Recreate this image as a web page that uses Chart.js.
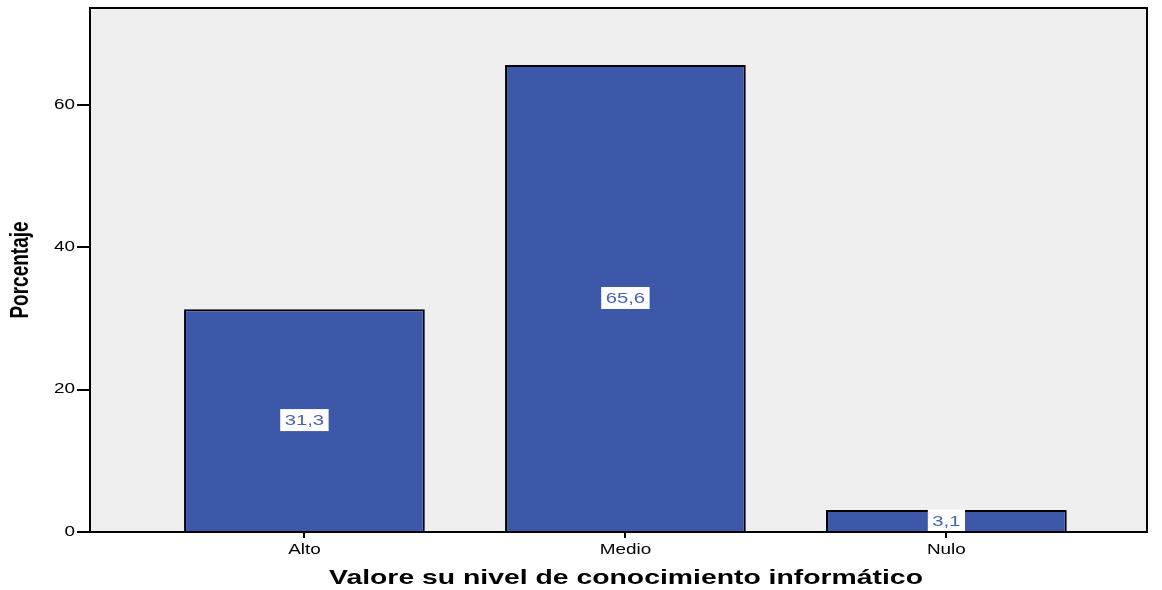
<!DOCTYPE html>
<html>
<head>
<meta charset="utf-8">
<script src="https://cdn.jsdelivr.net/npm/chart.js@4/dist/chart.umd.min.js"></script>
<style>
  html, body { margin: 0; padding: 0; background: #fff; }
  #wrap { width: 1162px; height: 590px; }
</style>
</head>
<body>
<div id="wrap"><canvas id="chart"></canvas></div>
<script>
const categories = ['Alto', 'Medio', 'Nulo'];
const porcentajes = [31.3, 65.6, 3.1];
const yTicks = [0, 20, 40, 60];
const xTitle = 'Valore su nivel de conocimiento informático';
const yTitle = 'Porcentaje';

const BAR_BLUE = '#3d58a9';
const LABEL_BLUE = '#4862b6';
const FONT = '"Liberation Sans", Arial, sans-serif';
const STRETCH = 1.35; // the original export is horizontally stretched

// text stretched horizontally, anchored at (x, y)
function wideText(ctx, txt, x, y, align) {
  ctx.save();
  ctx.translate(x, y);
  ctx.scale(STRETCH, 1);
  ctx.textAlign = align;
  ctx.textBaseline = 'middle';
  ctx.fillText(txt, 0, 0);
  ctx.restore();
}

const plotFrame = {
  id: 'plotFrame',
  beforeDraw(chart) {
    const { ctx, chartArea: a } = chart;
    ctx.save();
    ctx.fillStyle = '#efefef';
    ctx.fillRect(a.left, a.top, a.right - a.left, a.bottom - a.top);
    ctx.restore();
  },
  afterDraw(chart) {
    const { ctx, chartArea: a, scales } = chart;
    ctx.save();
    ctx.strokeStyle = '#000';
    ctx.lineWidth = 2;
    ctx.strokeRect(a.left, a.top, a.right - a.left, a.bottom - a.top);

    ctx.fillStyle = '#000';
    ctx.font = '14px ' + FONT;
    yTicks.forEach(v => wideText(ctx, String(v), a.left - 15, scales.y.getPixelForValue(v), 'right'));
    categories.forEach((c, i) => wideText(ctx, c, scales.x.getPixelForValue(i), 550, 'center'));

    ctx.font = 'bold 21px ' + FONT;
    wideText(ctx, xTitle, 626, 578, 'center');

    // rotated y title: stretch applies to glyph height
    ctx.translate(21, (a.top + a.bottom) / 2);
    ctx.scale(STRETCH, 1);
    ctx.rotate(-Math.PI / 2);
    ctx.font = 'bold 19px ' + FONT;
    ctx.textAlign = 'center';
    ctx.textBaseline = 'middle';
    ctx.fillText(yTitle, 0, 0);
    ctx.restore();
  }
};

// value boxes in the middle of each bar
const valueBoxes = {
  id: 'valueBoxes',
  afterDatasetsDraw(chart) {
    const { ctx } = chart;
    const meta = chart.getDatasetMeta(0);
    ctx.save();
    ctx.font = '15px ' + FONT;
    meta.data.forEach((bar, i) => {
      const txt = porcentajes[i].toFixed(1).replace('.', ',');
      const cy = (bar.y + bar.base) / 2;
      const w = ctx.measureText(txt).width * STRETCH + 9;
      const h = 22;
      ctx.fillStyle = '#fff';
      ctx.fillRect(bar.x - w / 2, cy - h / 2, w, h);
      ctx.fillStyle = LABEL_BLUE;
      wideText(ctx, txt, bar.x, cy + 1, 'center');
    });
    ctx.restore();
  }
};

new Chart(document.getElementById('chart'), {
  type: 'bar',
  data: {
    datasets: [{
      data: porcentajes.map((v, i) => ({ x: i, y: v })),
      backgroundColor: BAR_BLUE,
      borderColor: '#000',
      borderWidth: 2,
      borderSkipped: 'bottom',
      barPercentage: 0.75,
      categoryPercentage: 1
    }]
  },
  options: {
    responsive: true,
    maintainAspectRatio: false,
    animation: false,
    layout: { padding: { top: 8, right: 15, left: 0, bottom: 0 } },
    plugins: { legend: { display: false }, tooltip: { enabled: false } },
    scales: {
      x: {
        type: 'linear',
        offset: false,
        min: -0.668,
        max: 2.625,
        afterBuildTicks(scale) { scale.ticks = categories.map((c, i) => ({ value: i })); },
        afterFit(scale) { scale.height = 58; },
        ticks: { display: false },
        grid: { offset: false, drawOnChartArea: false, drawTicks: true, tickLength: 6, color: '#000', lineWidth: 2 },
        border: { display: true, color: '#000', width: 2 }
      },
      y: {
        min: 0,
        max: 73.6,
        afterBuildTicks(scale) { scale.ticks = yTicks.map(v => ({ value: v })); },
        afterFit(scale) { scale.width = 90; },
        ticks: { display: false },
        grid: { drawOnChartArea: false, drawTicks: true, tickLength: 13, color: '#000', lineWidth: 2 },
        border: { display: true, color: '#000', width: 2 }
      }
    }
  },
  plugins: [plotFrame, valueBoxes]
});
</script>
</body>
</html>
